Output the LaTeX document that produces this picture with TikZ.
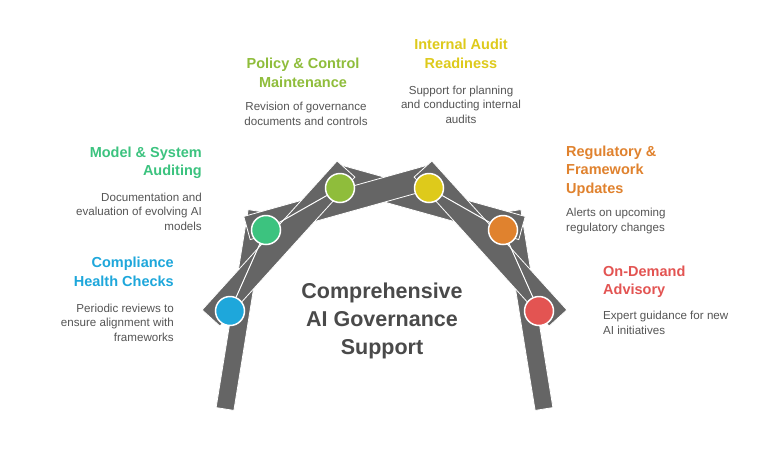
\documentclass[tikz,border=0pt]{standalone}
\usepackage{fontspec}
\setmainfont{Liberation Sans}
\usetikzlibrary{calc}
\definecolor{barcol}{HTML}{656565}
\definecolor{cblue}{HTML}{1EA7DB}
\definecolor{cgreen}{HTML}{3CC37F}
\definecolor{clime}{HTML}{8FBD3B}
\definecolor{cyellow}{HTML}{DECA1B}
\definecolor{corange}{HTML}{E0822E}
\definecolor{cred}{HTML}{E35452}
\definecolor{desccol}{HTML}{555555}
\definecolor{titlecol}{HTML}{4A4A4A}
\newcommand\archbar[3]{%
  \fill[barcol, draw=white, line width=0.8pt, line join=miter]
    ($(#1)!#3!90:(#2)$) -- ($(#2)!#3!-90:(#1)$) -- ($(#2)!#3!90:(#1)$) -- ($(#1)!#3!-90:(#2)$) -- cycle;}
\tikzset{
  dot/.style={circle, draw=white, line width=1.5pt, minimum size=29pt, inner sep=0pt},
  conn/.style={draw=white, line width=1pt},
  head/.style={font=\bfseries\fontsize{14.5}{18.5}\selectfont, inner sep=0pt},
  desc/.style={font=\fontsize{11.6}{14.5}\selectfont, text=desccol, inner sep=0pt},
  ttl/.style={font=\bfseries\fontsize{21.5}{28}\selectfont, text=titlecol, inner sep=0pt, align=center}
}
\begin{document}
\begin{tikzpicture}[x=1pt,y=-1pt]
\useasboundingbox[fill=white] (0,0) rectangle (768,469);
% bar end points
\coordinate (L1a) at (225,409); \coordinate (L1b) at (257,211);
\coordinate (L2a) at (211,318); \coordinate (L2b) at (346,169);
\coordinate (L3a) at (247,228); \coordinate (L3b) at (437,175);
\coordinate (R1a) at (544,409); \coordinate (R1b) at (512,211);
\coordinate (R2a) at (558,318); \coordinate (R2b) at (423,169);
\coordinate (R3a) at (522,228); \coordinate (R3b) at (332,175);
% bars
\archbar{L1a}{L1b}{9pt}
\archbar{R1a}{R1b}{9pt}
\archbar{R3a}{R3b}{12pt}
\archbar{L3a}{L3b}{12pt}
\archbar{L2a}{L2b}{12pt}
\archbar{R2a}{R2b}{12pt}
% circles
\node[dot, fill=cblue]   (c1) at (230,311) {};
\node[dot, fill=cgreen]  (c2) at (266,230) {};
\node[dot, fill=clime]   (c3) at (340,188) {};
\node[dot, fill=cyellow] (c4) at (429,188) {};
\node[dot, fill=corange] (c5) at (503,230) {};
\node[dot, fill=cred]    (c6) at (539,311) {};
\draw[conn] (c1) -- (c2);
\draw[conn] (c2) -- (c3);
\draw[conn] (c4) -- (c5);
\draw[conn] (c5) -- (c6);
% title
\node[ttl, anchor=base] (title) at (382,354) {Comprehensive\\AI Governance\\Support};
% texts
\node[head, text=cgreen, align=right, anchor=base east] (h2) at (202,175.5) {Model \& System\\Auditing};
\node[desc, align=right, anchor=base east] (d2) at (202,230) {Documentation and\\evaluation of evolving AI\\models};
\node[head, text=cblue, align=right, anchor=base east] (h1) at (174,286) {Compliance\\Health Checks};
\node[desc, align=right, anchor=base east] (d1) at (174,341) {Periodic reviews to\\ensure alignment with\\frameworks};
\node[head, text=clime, align=center, anchor=base] (h3) at (303,87) {Policy \& Control\\Maintenance};
\node[desc, align=center, anchor=base] (d3) at (306,125) {Revision of governance\\documents and controls};
\node[head, text=cyellow, align=center, anchor=base] (h4) at (461,68) {Internal Audit\\Readiness};
\node[desc, align=center, anchor=base] (d4) at (461,123) {Support for planning\\and conducting internal\\audits};
\node[head, text=corange, align=left, anchor=base west] (h5) at (566,193) {Regulatory \&\\Framework\\Updates};
\node[desc, align=left, anchor=base west] (d5) at (566,231) {Alerts on upcoming\\regulatory changes};
\node[head, text=cred, align=left, anchor=base west] (h6) at (603,294.5) {On-Demand\\Advisory};
\node[desc, align=left, anchor=base west] (d6) at (603,334) {Expert guidance for new\\AI initiatives};
\end{tikzpicture}
\end{document}
